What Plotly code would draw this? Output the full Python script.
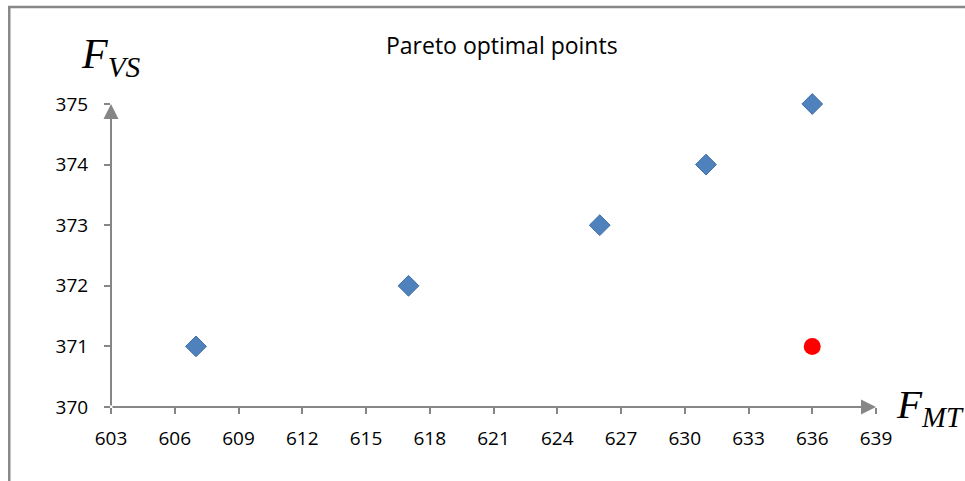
import plotly.graph_objects as go

pareto_x = [607, 617, 626, 631, 636]
pareto_y = [371, 372, 373, 374, 375]
ideal_x = [636]
ideal_y = [371]
x_ticks = list(range(603, 640, 3))
y_ticks = [370, 371, 372, 373, 374, 375]

AX = "#868686"
FONT = "Open Sans, Noto Sans, sans-serif"
SERIF = "Liberation Serif, Times New Roman, serif"

fig = go.Figure()
fig.add_trace(go.Scatter(x=pareto_x, y=pareto_y, mode="markers", cliponaxis=False,
                         marker=dict(symbol="diamond", size=16, color="#4F81BD",
                                     line=dict(color="#3F6FA8", width=1)),
                         showlegend=False))
fig.add_trace(go.Scatter(x=ideal_x, y=ideal_y, mode="markers", cliponaxis=False,
                         marker=dict(symbol="circle", size=17, color="#FF0000"),
                         showlegend=False))

# axis arrows
fig.add_annotation(x=x_ticks[0], y=y_ticks[-1], ax=x_ticks[0], ay=y_ticks[0],
                   xref="x", yref="y", axref="x", ayref="y", text="",
                   showarrow=True, arrowhead=2, arrowsize=1.5, arrowwidth=2, arrowcolor=AX)
fig.add_annotation(x=x_ticks[-1], y=y_ticks[0], ax=x_ticks[0], ay=y_ticks[0],
                   xref="x", yref="y", axref="x", ayref="y", text="",
                   showarrow=True, arrowhead=2, arrowsize=1.5, arrowwidth=2, arrowcolor=AX)

# axis labels
fig.add_annotation(text="<i>F<sub>VS</sub></i>", xref="paper", yref="paper",
                   x=-0.042, y=1.155, xanchor="left", yanchor="middle", showarrow=False,
                   font=dict(family=SERIF, size=42, color="black"))
fig.add_annotation(text="<i>F<sub>MT</sub></i>", xref="paper", yref="paper",
                   x=1.0, y=0.0, xanchor="left", yanchor="middle", showarrow=False,
                   xshift=18,
                   font=dict(family=SERIF, size=41, color="black"))

# outer border
fig.add_shape(type="rect", xref="paper", yref="paper", x0=-0.133, y0=-0.3, x1=1.2, y1=1.32,
              line=dict(color="#888888", width=2.5), fillcolor="rgba(0,0,0,0)")

fig.update_layout(
    width=965, height=481,
    margin=dict(l=111, r=89, t=104, b=74),
    paper_bgcolor="white", plot_bgcolor="white",
    title=dict(text="Pareto optimal points", x=0.52, xanchor="center", y=0.905, yanchor="middle",
               font=dict(family=FONT, size=23, color="black")),
    xaxis=dict(range=[603, 639], tickvals=x_ticks, ticktext=[str(v) for v in x_ticks],
               showgrid=False, zeroline=False, showline=False,
               ticks="outside", ticklen=6, tickwidth=1.5, tickcolor=AX,
               ticklabelstandoff=8,
               tickfont=dict(family=FONT, size=19, color="black")),
    yaxis=dict(range=[370, 375], tickvals=y_ticks, ticktext=[str(v) for v in y_ticks],
               showgrid=False, zeroline=False, showline=False,
               ticks="outside", ticklen=6, tickwidth=1.5, tickcolor=AX,
               ticklabelstandoff=12,
               tickfont=dict(family=FONT, size=19, color="black")),
)

fig.write_html("out.html", config={"displayModeBar": False},
               post_script="document.body.style.margin='0';document.body.style.overflow='hidden';")
